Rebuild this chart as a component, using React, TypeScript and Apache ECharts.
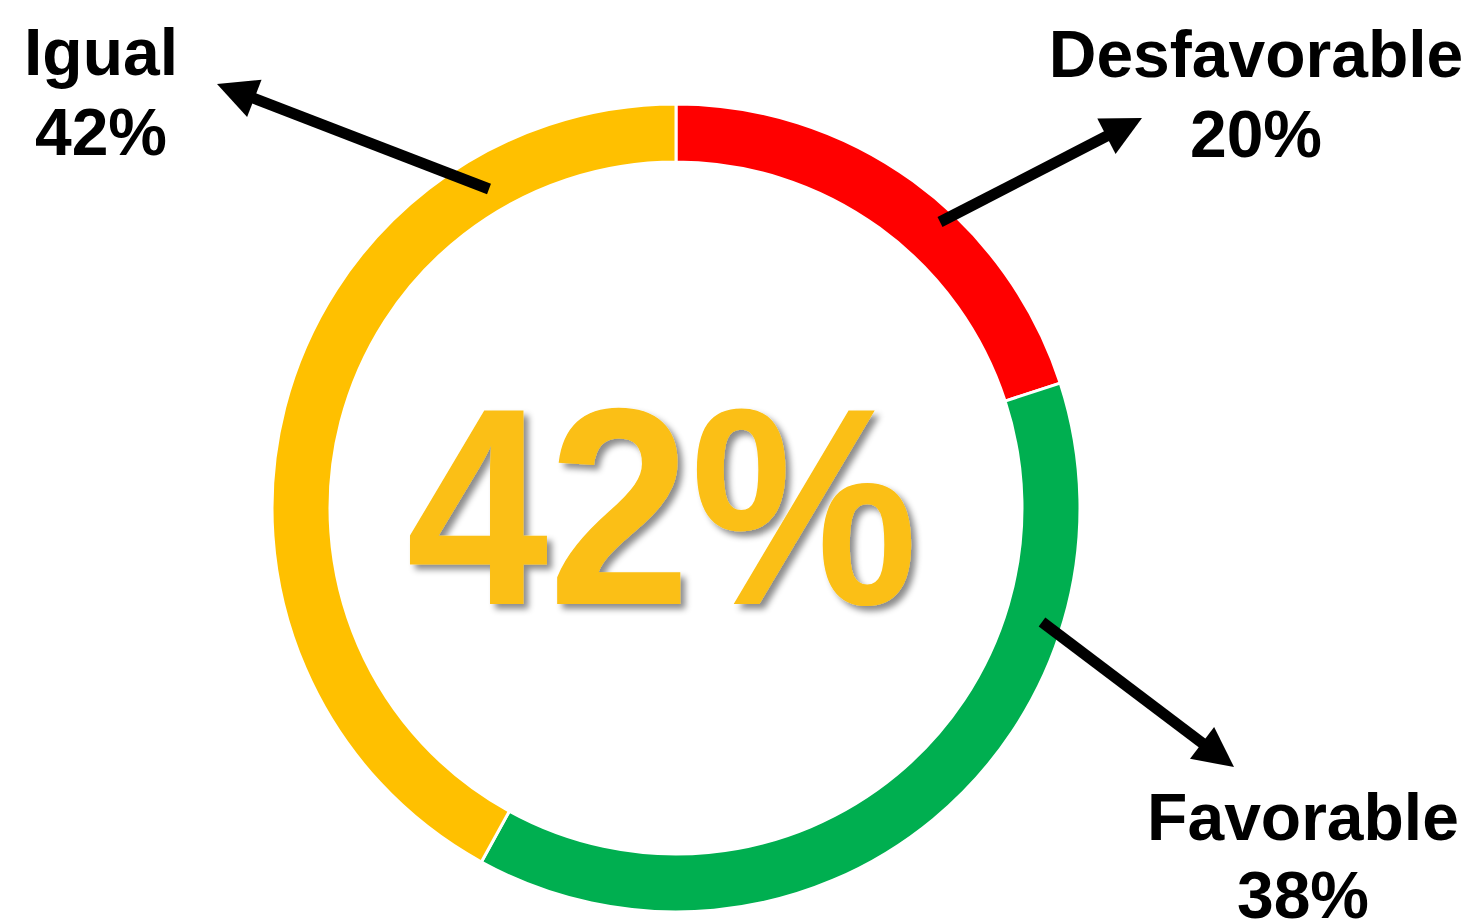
import React, { useEffect, useRef } from "react";
import * as echarts from "echarts";

const categories = ["Desfavorable", "Favorable", "Igual"];
const values = [20, 38, 42];
const colors = ["#FF0000", "#00AF50", "#FFC000"];
const centerLabel = "42%";

type Arrow = { from: [number, number]; to: [number, number] };

function arrowGraphic(a: Arrow) {
  const [x1, y1] = a.from;
  const [x2, y2] = a.to;
  const dx = x2 - x1;
  const dy = y2 - y1;
  const len = Math.sqrt(dx * dx + dy * dy);
  const ux = dx / len;
  const uy = dy / len;
  const headLen = 40;
  const headW = 20;
  const bx = x2 - ux * headLen;
  const by = y2 - uy * headLen;
  const px = -uy;
  const py = ux;
  return [
    {
      type: "line",
      z: 10,
      shape: { x1, y1, x2: bx + ux * 4, y2: by + uy * 4 },
      style: { stroke: "#000", lineWidth: 11 },
    },
    {
      type: "polygon",
      z: 10,
      shape: {
        points: [
          [x2, y2],
          [bx + px * headW, by + py * headW],
          [bx - px * headW, by - py * headW],
        ],
      },
      style: { fill: "#000" },
    },
  ];
}

const arrows: Arrow[] = [
  { from: [489, 189], to: [217, 84] },
  { from: [940, 222], to: [1142, 118] },
  { from: [1042, 622], to: [1234, 767] },
];

// Offset from the text's middle (central baseline) to its alphabetic baseline, in em
const CENTRAL = 0.3465;

export default function App() {
  const ref = useRef<HTMLDivElement>(null);
  useEffect(() => {
    if (!ref.current) return;
    const chart = echarts.init(ref.current, null, { renderer: "svg" });
    const font = "'Liberation Sans', Arial, sans-serif";
    const txt = (x: number, baseline: number, text: string, size = 66) => ({
      type: "text",
      z: 10,
      x,
      y: baseline - CENTRAL * size,
      style: {
        text,
        font: `bold ${size}px ${font}`,
        fill: "#000",
        align: "center",
        verticalAlign: "middle",
      },
    });
    const pct = (i: number) => `${values[i]}%`;
    const bigSize = 281;
    chart.setOption({
      animation: false,
      backgroundColor: "#fff",
      series: [
        {
          type: "pie",
          center: [676, 508],
          radius: [346, 404],
          startAngle: 90,
          clockwise: true,
          silent: true,
          label: { show: false },
          labelLine: { show: false },
          itemStyle: { borderColor: "#fff", borderWidth: 3 },
          data: categories.map((c, i) => ({
            name: c,
            value: values[i],
            itemStyle: { color: colors[i] },
          })),
        },
      ],
      graphic: [
        ...arrows.flatMap(arrowGraphic),
        {
          type: "text",
          z: 10,
          x: 662,
          y: 604 - CENTRAL * bigSize,
          scaleX: 0.91,
          style: {
            text: centerLabel,
            font: `bold ${bigSize}px ${font}`,
            fill: "#FBBF13",
            align: "center",
            verticalAlign: "middle",
            textShadowColor: "rgba(0,0,0,0.45)",
            textShadowBlur: 6,
            textShadowOffsetX: 5,
            textShadowOffsetY: 5,
          },
        },
        txt(101, 75, categories[2]),
        txt(101, 155, pct(2)),
        txt(1256, 77, categories[0]),
        txt(1256, 157, pct(0)),
        txt(1303, 840, categories[1]),
        txt(1303, 918, pct(1)),
      ],
    });
    return () => chart.dispose();
  }, []);
  return (
    <div
      ref={ref}
      style={{ position: "fixed", left: 0, top: 0, width: 1476, height: 921 }}
    />
  );
}
